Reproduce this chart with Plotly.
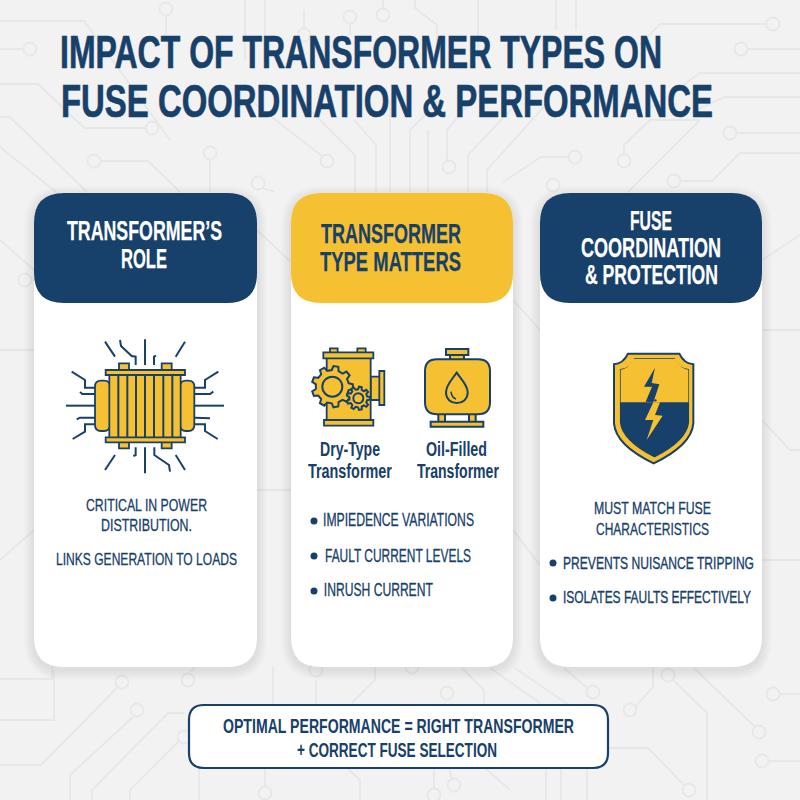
import json, math
import plotly.graph_objects as go

# ---------- content ----------
title_lines = ["IMPACT OF TRANSFORMER TYPES ON", "FUSE COORDINATION & PERFORMANCE"]
header_1 = ["TRANSFORMER’S", "ROLE"]
header_2 = ["TRANSFORMER", "TYPE MATTERS"]
header_3 = ["FUSE", "COORDINATION", "& PROTECTION"]
body_1 = ["CRITICAL IN POWER", "DISTRIBUTION.", "LINKS GENERATION TO LOADS"]
types_left = ["Dry-Type", "Transformer"]
types_right = ["Oil-Filled", "Transformer"]
bullets_2 = ["IMPIEDENCE VARIATIONS", "FAULT CURRENT LEVELS", "INRUSH CURRENT"]
intro_3 = ["MUST MATCH FUSE", "CHARACTERISTICS"]
bullets_3 = ["PREVENTS NUISANCE TRIPPING", "ISOLATES FAULTS EFFECTIVELY"]
footer = ["OPTIMAL PERFORMANCE = RIGHT TRANSFORMER", "+ CORRECT FUSE SELECTION"]

NAVY = "#17406a"
GOLD = "#f5c132"
BG = "#f2f2f2"
TRACE = "#e6e7e7"
FONT = "Liberation Sans, sans-serif"

shapes, annos, widths, strokes = [], [], [], []


def path(d, fill=None, line=None, lw=2.0):
    s = dict(type="path", path=d, layer="below", xref="x", yref="y",
             line=dict(color=line or "rgba(0,0,0,0)", width=lw if line else 0))
    if fill:
        s["fillcolor"] = fill
    shapes.append(s)


def circle(cx, cy, r, fill=None, line=None, lw=2.0):
    shapes.append(dict(type="circle", layer="below", xref="x", yref="y",
                       x0=cx - r, x1=cx + r, y0=cy - r, y1=cy + r,
                       fillcolor=fill or "rgba(0,0,0,0)",
                       line=dict(color=line or "rgba(0,0,0,0)", width=lw if line else 0)))


def rrect(x0, y0, x1, y1, r):
    return (f"M{x0+r},{y0} L{x1-r},{y0} Q{x1},{y0} {x1},{y0+r} L{x1},{y1-r} Q{x1},{y1} {x1-r},{y1} "
            f"L{x0+r},{y1} Q{x0},{y1} {x0},{y1-r} L{x0},{y0+r} Q{x0},{y0} {x0+r},{y0} Z")


def poly(pts, close=False):
    d = "M" + " L".join(f"{x:.2f},{y:.2f}" for x, y in pts)
    return d + (" Z" if close else "")


def text(s, cx, cy, size, width, color=NAVY, weight="normal", stroke=0.0, hf=1.0):
    annos.append(dict(text=s, x=cx, y=cy, xref="x", yref="y", xanchor="center", yanchor="middle",
                      showarrow=False, width=width + 6, height=size * hf,
                      font=dict(family=FONT, size=size, color=color, weight=weight)))
    widths.append(width)
    strokes.append(stroke)


# ---------- background circuit ----------
wires = [
    [(0,21),(84,21),(170,140)], [(0,49),(24,49)], [(0,84),(38,84),(84,128),(146,128)],
    [(0,117),(10,117),(87,192)], [(0,147),(56,192)], [(100,161),(148,161),(180,192)],
    [(210,159),(210,192)], [(262,188),(275,192)], [(250,100),(322,156)],
    [(300,100),(355,155),(355,192)], [(354,120),(376,145),(376,192)], [(390,100),(390,192)],
    [(410,192),(410,130),(440,100)], [(428,192),(428,130)], [(447,160),(447,130),(480,90)],
    [(468,192),(468,155),(520,100)], [(487,192),(487,170),(550,100)],
    [(503,182),(541,157),(569,157)], [(624,155),(624,145),(650,120),(700,120)], [(628,192),(700,120)],
    [(680,181),(712,181),(740,153),(800,153)], [(736,133),(800,133)],
    [(648,110),(700,73),(800,73)], [(690,113),(725,97),(800,97)], [(767,24),(660,24),(640,45)],
    [(747,49),(800,49)], [(166,15),(166,35)], [(245,0),(245,60)], [(265,0),(265,40)],
    [(415,0),(415,8),(437,25),(437,50)], [(478,0),(478,60)], [(556,0),(556,30)], [(576,0),(576,30)],
    [(350,23),(350,35)], [(383,0),(383,9)], [(304,35),(304,10)],
    [(0,240),(34,270)], [(0,350),(34,350)], [(0,560),(34,530)], [(257,230),(291,262)],
    [(257,490),(291,490)], [(513,300),(540,330)], [(513,530),(540,565)], [(762,260),(800,235)],
    [(762,330),(800,330)], [(762,420),(790,450),(800,450)], [(762,560),(800,560)],
    [(0,679),(52,679),(52,667)], [(0,720),(54,720),(54,670)], [(117,688),(41,765),(0,765)],
    [(133,717),(70,775),(70,800)], [(184,713),(168,713),(92,790),(92,800)],
    [(180,740),(130,790),(130,800)], [(190,672),(195,667)], [(273,667),(273,717)],
    [(316,680),(316,705)], [(375,667),(375,680),(352,703)], [(462,668),(484,690),(484,705)],
    [(490,668),(540,703)], [(515,668),(576,710)], [(564,668),(587,688)], [(635,707),(653,687),(653,667)],
    [(673,680),(707,713),(707,800)], [(694,668),(755,727)], [(780,694),(800,694)], [(768,761),(800,761)],
    [(608,748),(648,748),(684,785)], [(199,768),(199,800)], [(265,768),(265,787)],
    [(347,768),(360,780),(360,800)], [(434,768),(434,790)], [(449,768),(452,779)],
    [(485,768),(510,790)], [(546,768),(546,800)], [(561,768),(561,800)], [(587,768),(587,800)],
]
nodes = [
    (30,49),(152,128),(94,161),(210,153),(258,183),(327,161),(449,167),(553,185),(575,157),(624,161),
    (674,181),(730,133),(773,24),(741,49),(166,9),(350,17),(383,15),(304,35),(25,280),
    (122,682),(137,710),(184,737),(188,680),(316,670),(412,667),(447,693),(593,692),(630,710),(668,675),
    (759,732),(773,694),(762,761),(689,790),(265,793),(434,795),(454,785),
]
for w in wires:
    path(poly(w), line=TRACE, lw=1.8)
for x, y in nodes:
    circle(x, y, 6.5, fill=BG, line=TRACE, lw=1.8)

# ---------- cards ----------
card_x = [(34, 257), (291, 513), (540, 762)]
head_col = [NAVY, GOLD, NAVY]
for (x0, x1) in card_x:
    for i in range(10, 0, -1):
        path(rrect(x0 - i, 193 - i + 3, x1 + i, 667 + i + 3, 30 + i), fill="rgba(60,70,80,0.013)")
for (x0, x1), c in zip(card_x, head_col):
    path(rrect(x0, 193, x1, 667, 30), fill="#ffffff")
    path(rrect(x0, 193, x1, 303, 30), fill=c)

# footer box
path(rrect(189, 705, 608, 768, 15), fill="#ffffff", line=NAVY, lw=2.2)


# ---------- icon 1 : transformer ----------
def z(ox, oy, pts):
    return [(ox + x / 3, oy + y / 3) for x, y in pts]


def zr(ox, oy, x0, y0, x1, y1, r=0):
    return rrect(ox + x0 / 3, oy + y0 / 3, ox + x1 / 3, oy + y1 / 3, r / 3)


I1 = (50, 320)
wire1 = [
    [(65,155),(105,180),(105,203),(135,203)], [(90,216),(97,222),(135,222)], [(48,257),(135,257)],
    [(80,298),(90,293),(135,293)], [(68,357),(105,335),(105,313),(135,313)],
    [(505,155),(465,180),(465,203),(435,203)], [(490,215),(480,222),(435,222)], [(522,257),(435,257)],
    [(480,295),(435,293)], [(503,357),(465,333),(465,313),(435,313)],
    [(165,65),(195,110)], [(210,60),(213,78),(245,108),(257,110),(257,135)], [(285,58),(285,135)],
    [(318,107),(312,110),(312,135)], [(405,65),(377,110)],
    [(165,450),(195,405)], [(257,382),(257,405),(250,408)], [(285,382),(285,460)],
    [(313,382),(313,405),(357,435),(360,455)], [(377,405),(405,450)],
]
for w in wire1:
    path(poly(z(*I1, w)), line=NAVY, lw=2)
for a, b, c, d, r in [(135,182,180,333,18), (390,182,433,333,18), (207,130,237,152,0), (335,130,365,152,0),
                      (207,365,237,385,0), (335,365,365,385,0)]:
    path(zr(*I1, a, b, c, d, r), fill=GOLD, line=NAVY, lw=1.8)
path(zr(*I1, 178, 160, 392, 355), fill=GOLD, line=NAVY, lw=1.8)
for x in [205, 232, 258, 285, 312, 340, 367]:
    path(poly(z(*I1, [(x, 160), (x, 355)])), line=NAVY, lw=2)
path(zr(*I1, 167, 150, 405, 165), fill=GOLD, line=NAVY, lw=1.8)
path(zr(*I1, 167, 352, 405, 367), fill=GOLD, line=NAVY, lw=1.8)

# ---------- icon 2 : dry-type ----------
I2 = (300, 335)
for a, b, c, d in [(90,40,113,54), (172,40,197,54), (212,125,240,195), (238,108,253,210), (80,68,212,255),
                   (70,52,220,70), (72,255,220,272)]:
    path(zr(*I2, a, b, c, d), fill=GOLD, line=NAVY, lw=1.8)


def gear(cx, cy, ro, ri, teeth):
    pts = []
    n = teeth
    for k in range(n):
        a = 2 * math.pi * k / n
        step = 2 * math.pi / n
        for da, r in [(-0.30, ri), (-0.17, ro), (0.17, ro), (0.30, ri)]:
            t = a + da * step
            pts.append((cx + r * math.cos(t), cy + r * math.sin(t)))
    return pts


for cx, cy, ro, ri, n, hole in [(97,155,62,50,9,30), (175,190,35,27,9,15)]:
    path(poly(z(*I2, gear(cx, cy, ro, ri, n)), close=True), fill=GOLD, line=NAVY, lw=2)
    circle(I2[0] + cx / 3, I2[1] + cy / 3, hole / 3, fill=GOLD, line=NAVY, lw=2)

# ---------- icon 2b : oil-filled ----------
for a, b, c, d, r in [(415,236,435,262,0), (507,236,527,262,0), (392,260,550,275,0), (450,58,492,75,0),
                      (438,42,505,60,0), (375,73,570,238,36)]:
    path(zr(*I2, a, b, c, d, r), fill=GOLD, line=NAVY, lw=2)
dx = lambda v: I2[0] + v / 3
dy = lambda v: I2[1] + v / 3
path(f"M{dx(470)},{dy(113)} C{dx(455)},{dy(135)} {dx(438)},{dy(150)} {dx(438)},{dy(172)} "
     f"C{dx(438)},{dy(215)} {dx(503)},{dy(215)} {dx(503)},{dy(172)} "
     f"C{dx(503)},{dy(150)} {dx(485)},{dy(135)} {dx(470)},{dy(113)} Z", fill=GOLD, line=NAVY, lw=2)
path(f"M{dx(453)},{dy(170)} Q{dx(455)},{dy(188)} {dx(468)},{dy(192)}", line=NAVY, lw=1.5)

# ---------- icon 3 : shield ----------
I3 = (600, 345)
sx = lambda v: I3[0] + v / 3
sy = lambda v: I3[1] + v / 3


def shield(xl, xr, top, sh, cut, mid, bot):
    xc = (xl + xr) / 2
    return (f"M{sx(xl)},{sy(sh)} Q{sx(xl+28)},{sy(sh-2)} {sx(xl+42)},{sy(top)} L{sx(xr-42)},{sy(top)} "
            f"Q{sx(xr-28)},{sy(sh-2)} {sx(xr)},{sy(sh)} L{sx(xr)},{sy(cut)} "
            f"Q{sx(xr-5)},{sy(mid)} {sx(xc)},{sy(bot)} Q{sx(xl+5)},{sy(mid)} {sx(xl)},{sy(cut)} Z")


path(shield(42, 280, 26, 58, 235, 300, 355), fill=GOLD, line=NAVY, lw=2)
path(shield(62, 265, 42, 74, 232, 285, 335), fill=NAVY, line=NAVY, lw=1.5)
path(f"M{sx(62)},{sy(74)} Q{sx(85)},{sy(72)} {sx(100)},{sy(42)} L{sx(227)},{sy(42)} "
     f"Q{sx(242)},{sy(72)} {sx(265)},{sy(74)} L{sx(265)},{sy(172)} L{sx(62)},{sy(172)} Z", fill=GOLD)
path(poly(z(*I3, [(165,68),(132,125),(156,125),(137,170),(160,172),(178,118),(155,114)]), close=True), fill=NAVY)
path(poly(z(*I3, [(160,172),(135,225),(160,225),(140,285),(188,212),(165,210),(180,172)]), close=True), fill=GOLD)
circle(sx(166), sy(166), 1.2, fill=NAVY)

# ---------- text ----------
for s, cx, cy, w in zip(title_lines, [361, 386.5], [51.5, 100.5], [602, 652]):
    text(s, cx, cy, 47, w, weight="bold", stroke=0.7)
for s, cx, cy, w in zip(header_1, [144.5, 144], [230, 258.5], [155, 46]):
    text(s, cx, cy, 27, w, "#ffffff", weight="bold", stroke=0.25)
for s, cx, cy, w in zip(header_2, [391, 390.5], [233.5, 261.5], [140, 141]):
    text(s, cx, cy, 27, w, weight="bold", stroke=0.25)
for s, cx, cy, w in zip(header_3, [651, 651, 651.5], [220.5, 247.5, 274.5], [42, 140, 133]):
    text(s, cx, cy, 27, w, "#ffffff", weight="bold", stroke=0.25)
for s, cx, cy, w in zip(body_1, [146.5, 146.5, 146.5], [505, 525, 559], [121, 91, 181]):
    text(s, cx, cy, 17, w, stroke=0.3)
for s, cx, cy, w in zip(types_left, [350, 350], [448.5, 470.5], [60, 84]):
    text(s, cx, cy, 20, w, weight="bold", hf=1.1)
for s, cx, cy, w in zip(types_right, [456.5, 458], [448.5, 470.5], [61, 82]):
    text(s, cx, cy, 20, w, weight="bold", hf=1.1)
for s, cx, cy, w in zip(bullets_2, [398.5, 398, 378.5], [520, 556, 590], [151, 146, 109]):
    text(s, cx, cy, 17.5, w, stroke=0.3)
for s, cx, cy, w in zip(intro_3, [652.5, 652.5], [508, 529], [117, 113]):
    text(s, cx, cy, 17, w, stroke=0.3)
for s, cx, cy, w in zip(bullets_3, [658.5, 657], [563, 597], [191, 188]):
    text(s, cx, cy, 17, w, stroke=0.35)
for s, cx, cy, w in zip(footer, [398.5, 397], [725.5, 749.5], [351, 200]):
    text(s, cx, cy, 21, w, weight="bold")

bullet_x = [314, 314, 314, 553, 553]
bullet_y = [521, 556, 591, 563, 598]

fig = go.Figure(go.Scatter(x=bullet_x, y=bullet_y, mode="markers", hoverinfo="skip",
                           marker=dict(color=NAVY, size=7)))
fig.update_layout(
    width=800, height=800, autosize=False, showlegend=False,
    margin=dict(l=0, r=0, t=0, b=0), paper_bgcolor=BG, plot_bgcolor=BG,
    xaxis=dict(range=[0, 800], visible=False, fixedrange=True),
    yaxis=dict(range=[800, 0], visible=False, fixedrange=True),
    shapes=shapes, annotations=annos,
)

post = """
document.body.style.margin='0';
var w=%s, k=%s;
document.querySelectorAll('.annotation-text').forEach(function(t,i){
  t.setAttribute('textLength',w[i]);t.setAttribute('lengthAdjust','spacingAndGlyphs');
  if(k[i]>0){t.style.stroke=t.style.fill;t.style.strokeWidth=k[i]+'px';}
});
""" % (json.dumps(widths), json.dumps(strokes))
fig.write_html("out.html", post_script=post, config=dict(displayModeBar=False))
